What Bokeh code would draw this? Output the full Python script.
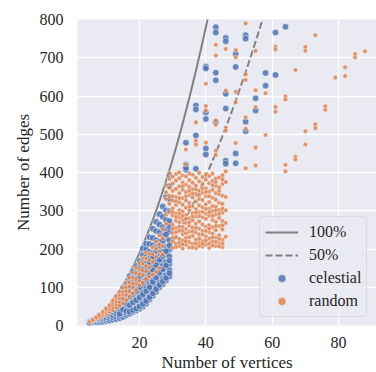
import numpy as np
from bokeh.plotting import figure
from bokeh.models import Legend, LegendItem, FixedTicker, Range1d
from bokeh.embed import file_html
from bokeh.resources import INLINE

# ---------------- data ----------------
# celestial graphs: (vertices, edges)
cel_n = [5, 5, 5, 6, 6, 6, 7, 7, 7, 7, 8, 8, 8, 8, 8, 9, 9, 9, 9, 9,
         10, 10, 10, 10, 10, 10, 11, 11, 11, 11, 11, 11,
         12, 12, 12, 12, 12, 12, 12, 13, 13, 13, 13, 13, 13, 13, 13,
         14, 14, 14, 14, 14, 14, 14, 14, 15, 15, 15, 15, 15, 15, 15, 15, 15,
         16, 16, 16, 16, 16, 16, 16, 16, 16, 17, 17, 17, 17, 17, 17, 17, 17, 17, 17,
         18, 18, 18, 18, 18, 18, 18, 18, 18, 18, 19, 19, 19, 19, 19, 19, 19, 19, 19, 19,
         20, 20, 20, 20, 20, 20, 20, 20, 20, 20, 21, 21, 21, 21, 21, 21, 21, 21, 21, 21, 21,
         22, 22, 22, 22, 22, 22, 22, 22, 22, 22, 22, 23, 23, 23, 23, 23, 23, 23, 23, 23, 23, 23,
         24, 24, 24, 24, 24, 24, 24, 24, 24, 24, 24, 25, 25, 25, 25, 25, 25, 25, 25, 25, 25, 25,
         26, 26, 26, 26, 26, 26, 26, 26, 26, 26, 26, 27, 27, 27, 27, 27, 27, 27, 27, 27, 27, 27,
         28, 28, 28, 28, 28, 28, 28, 28, 28, 28, 28, 29, 29, 29, 29, 29, 29, 29, 29, 29, 29, 29, 29,
         14, 14, 15, 15, 16, 16, 16, 17, 17, 17, 17, 18, 18, 18, 18, 19, 19, 19, 19,
         20, 20, 20, 20, 21, 21, 21, 21, 22, 22, 22, 22, 23, 23, 23, 23, 24, 24, 24, 24,
         25, 25, 25, 25, 26, 26, 26, 26, 27, 27, 27, 27, 28, 28, 28, 28, 29, 29, 29, 29,
         43, 43, 46, 46, 49, 52, 52, 61, 64, 40, 40, 43, 43, 49, 58, 61, 58, 46, 55, 46,
         55, 40, 40, 43, 52, 52, 40, 40, 49, 46, 46, 49, 34, 34, 37, 37, 37, 34, 34, 37]
cel_e = [8, 10, 6, 9, 12, 14, 8, 11, 16, 19, 9, 14, 17, 23, 26, 10, 15, 19, 25, 31,
         12, 17, 21, 28, 34, 41, 13, 19, 25, 31, 38, 46,
         15, 21, 27, 35, 42, 51, 59, 17, 24, 31, 38, 47, 54, 64, 73,
         19, 25, 35, 43, 50, 61, 71, 81, 22, 30, 36, 47, 57, 65, 78, 87, 99,
         27, 33, 43, 51, 63, 74, 83, 96, 109, 31, 40, 47, 59, 68, 81, 93, 103, 117, 129,
         35, 45, 53, 66, 75, 89, 101, 112, 128, 141, 39, 48, 61, 71, 85, 96, 111, 125, 138, 156,
         44, 56, 66, 81, 92, 108, 120, 137, 151, 169, 50, 61, 76, 87, 103, 116, 133, 147, 166, 184, 201,
         57, 71, 83, 99, 112, 129, 143, 162, 179, 199, 214, 68, 81, 93, 110, 123, 141, 156, 176, 192, 213, 231,
         78, 91, 107, 120, 138, 152, 172, 189, 210, 229, 253, 88, 103, 117, 134, 149, 168, 184, 205, 223, 247, 271,
         100, 113, 131, 145, 164, 180, 201, 219, 243, 264, 291, 108, 123, 137, 156, 172, 193, 211, 235, 257, 284, 311,
         118, 131, 149, 164, 185, 203, 227, 249, 276, 301, 336, 128, 146, 161, 181, 199, 223, 245, 273, 299, 331, 364, 394,
         30, 55, 41, 70, 38, 58, 89, 36, 53, 75, 98, 40, 60, 82, 106, 44, 66, 90, 117,
         50, 73, 100, 128, 56, 81, 110, 140, 64, 90, 120, 152, 74, 100, 132, 166, 84, 114, 145, 180,
         95, 125, 158, 195, 106, 138, 172, 210, 115, 147, 182, 222, 124, 157, 194, 238, 137, 170, 210, 258,
         780, 766, 752, 743, 710, 759, 750, 766, 781, 677, 672, 661, 641, 676, 660, 655, 627, 606, 594, 567,
         562, 557, 540, 532, 533, 508, 463, 447, 450, 431, 423, 424, 478, 407, 575, 565, 497, 421, 412, 410]

# random graphs: (vertices, edges)
rnd_n = [5, 5, 6, 6, 7, 7, 7, 8, 8, 8, 9, 9, 9, 9, 10, 10, 10, 10, 11, 11, 11, 11,
         12, 12, 12, 12, 12, 13, 13, 13, 13, 13, 14, 14, 14, 14, 14,
         15, 15, 15, 15, 15, 16, 16, 16, 16, 16, 17, 17, 17, 17, 17,
         18, 18, 18, 18, 18, 19, 19, 19, 19, 19, 20, 20, 20, 20, 20,
         21, 21, 21, 21, 21, 22, 22, 22, 22, 22, 23, 23, 23, 23,
         24, 24, 24, 24, 25, 25, 25, 25, 26, 26, 26, 26,
         27, 27, 27, 27,
         28, 28, 28, 28, 28, 29, 29, 29, 29, 29, 29,
         30, 30, 30, 30, 30, 30, 30, 30, 30, 30, 31, 31, 31, 31, 31, 31, 31, 31, 31, 31,
         32, 32, 32, 32, 32, 32, 32, 32, 32, 32, 32, 33, 33, 33, 33, 33, 33, 33, 33, 33, 33, 33,
         34, 34, 34, 34, 34, 34, 34, 34, 34, 34, 35, 35, 35, 35, 35, 35, 35, 35, 35, 35, 35,
         36, 36, 36, 36, 36, 36, 36, 36, 36, 36, 37, 37, 37, 37, 37, 37, 37, 37, 37, 37,
         38, 38, 38, 38, 38, 38, 38, 38, 38, 38, 39, 39, 39, 39, 39, 39, 39, 39, 39, 39,
         40, 40, 40, 40, 40, 40, 40, 40, 40, 40, 41, 41, 41, 41, 41, 41, 41, 41, 41, 41,
         42, 42, 42, 42, 42, 42, 42, 42, 42, 42, 43, 43, 43, 43, 43, 43, 43, 43, 43, 43,
         44, 44, 44, 44, 44, 44, 44, 44, 44, 45, 45, 45, 45, 45, 45, 45, 45, 45,
         46, 46, 46, 46, 46,
         30, 30, 30, 30, 31, 31, 31, 31, 32, 32, 32, 32,
         33, 33, 33, 33, 34, 34, 34, 34, 35, 35, 35, 35, 36, 36, 36, 36, 37, 37, 37, 37,
         38, 38, 38, 38, 39, 39, 39, 39, 40, 40, 40, 40, 41, 41, 41, 41, 42, 42, 42, 42,
         43, 43, 43, 43, 44, 44, 44, 44, 45, 45, 45, 45,
         52, 73, 43, 46, 43, 49, 49, 55, 61, 61, 70, 70, 85, 85, 88, 82, 82, 79, 67, 40,
         52, 52, 46, 49, 55, 58, 64, 64, 40, 40, 49, 55, 61, 61, 76, 76, 43, 43, 46, 46,
         52, 52, 73, 73, 70, 58, 40, 43, 43, 49, 55, 70, 67, 67, 52, 55, 64, 64, 46, 37,
         37, 34, 37, 34]
rnd_e = [10, 9, 13, 15, 17, 20, 21, 20, 24, 27, 25, 29, 33, 36, 30, 35, 40, 44, 36, 42, 48, 53,
         40, 48, 55, 61, 66, 47, 56, 63, 71, 77, 53, 62, 72, 80, 88,
         58, 70, 81, 89, 99, 66, 80, 91, 100, 112, 76, 89, 102, 112, 125,
         84, 99, 110, 125, 138, 93, 109, 121, 137, 151, 105, 117, 134, 147, 163,
         112, 131, 144, 161, 175, 122, 142, 156, 175, 190, 128, 152, 171, 187,
         133, 166, 187, 204, 140, 179, 201, 219, 150, 193, 212, 236,
         185, 207, 227, 252,
         266, 290, 331, 348, 367, 297, 318, 339, 360, 383, 398,
         203, 219, 242, 263, 288, 306, 327, 352, 371, 389, 214, 231, 255, 274, 293, 315, 336, 357, 379, 396,
         207, 226, 248, 270, 283, 301, 322, 346, 364, 385, 400, 201, 222, 239, 258, 277, 298, 316, 333, 355, 374, 392,
         211, 229, 252, 268, 289, 308, 327, 349, 368, 390, 204, 218, 245, 261, 280, 302, 320, 341, 362, 380, 397,
         213, 234, 256, 275, 294, 311, 335, 356, 373, 394, 202, 225, 243, 266, 285, 304, 324, 344, 366, 386,
         216, 238, 253, 272, 296, 314, 331, 352, 377, 399, 206, 221, 247, 264, 283, 309, 328, 347, 369, 388,
         212, 233, 258, 279, 292, 317, 338, 359, 381, 395, 203, 227, 244, 262, 287, 305, 323, 350, 372, 391,
         219, 240, 257, 276, 299, 312, 334, 355, 378, 397, 208, 230, 249, 271, 290, 310, 329, 346, 365, 384,
         215, 236, 260, 281, 302, 321, 343, 361, 387, 205, 224, 251, 273, 295, 318, 339, 370, 393,
         232, 268, 301, 336, 375,
         230, 253, 297, 338, 205, 244, 284, 325, 216, 259, 292, 333,
         212, 248, 287, 364, 220, 241, 279, 338, 231, 270, 311, 352, 204, 246, 285, 345, 214, 255, 295, 356,
         208, 227, 286, 342, 214, 238, 297, 358, 222, 247, 305, 349, 214, 253, 296, 338, 209, 230, 287, 367,
         219, 260, 301, 375, 207, 226, 292, 352, 214, 262, 306, 382,
         790, 759, 734, 723, 706, 720, 701, 718, 729, 722, 728, 718, 710, 701, 717, 675, 652, 648, 668, 632,
         657, 642, 614, 611, 615, 607, 599, 591, 574, 562, 584, 571, 571, 559, 573, 564, 536, 525, 517, 510,
         544, 514, 526, 516, 508, 498, 478, 457, 446, 477, 465, 473, 441, 434, 411, 418, 420, 403, 403, 483,
         473, 460, 531, 421]

x_ticks = [20, 40, 60, 80]
y_ticks = [0, 100, 200, 300, 400, 500, 600, 700, 800]
series_names = ["celestial", "random"]
line_names = ["100%", "50%"]

# ---------------- figure ----------------
FONT = "Liberation Serif"
p = figure(frame_width=299, frame_height=306, output_backend="svg", toolbar_location=None,
           x_range=Range1d(1.3, 91.45), y_range=Range1d(0, 800))
p.min_border_left = 77
p.min_border_right = 0
p.min_border_top = 19
p.min_border_bottom = 47
p.background_fill_color = "#EAEAF2"
p.border_fill_color = "white"
p.outline_line_color = None

p.xaxis.axis_line_color = None
p.yaxis.axis_line_color = None
p.xaxis.major_tick_line_color = None
p.yaxis.major_tick_line_color = None
p.xaxis.minor_tick_line_color = None
p.yaxis.minor_tick_line_color = None
p.xaxis.major_tick_out = 0
p.yaxis.major_tick_out = 0
p.xaxis.major_tick_in = 0
p.yaxis.major_tick_in = 0
p.xaxis.major_label_text_font = FONT
p.yaxis.major_label_text_font = FONT
p.xaxis.major_label_text_font_size = "16px"
p.yaxis.major_label_text_font_size = "16px"
p.xaxis.major_label_text_font_style = "normal"
p.yaxis.major_label_text_font_style = "normal"
p.xaxis.major_label_text_color = "#262626"
p.yaxis.major_label_text_color = "#262626"
p.xaxis.axis_label_text_font = FONT
p.yaxis.axis_label_text_font = FONT
p.xaxis.axis_label_text_font_size = "17px"
p.yaxis.axis_label_text_font_size = "17px"
p.xaxis.axis_label_text_font_style = "normal"
p.yaxis.axis_label_text_font_style = "normal"
p.xaxis.axis_label_text_color = "#262626"
p.yaxis.axis_label_text_color = "#262626"

p.xaxis.ticker = FixedTicker(ticks=x_ticks)
p.yaxis.ticker = FixedTicker(ticks=y_ticks)
p.xaxis.axis_label = "Number of vertices"
p.yaxis.axis_label = "Number of edges"
p.xaxis.major_label_standoff = 11
p.yaxis.major_label_standoff = 14
p.xaxis.axis_label_standoff = 2
p.yaxis.axis_label_standoff = 4

p.grid.grid_line_color = "white"
p.grid.grid_line_width = 1.3

# reference curves (complete graph and half of it)
n_all = np.array(sorted(set(cel_n) | set(rnd_n)), dtype=float)
n_line = np.linspace(n_all.min(), n_all.max(), 300)
full = n_line * (n_line - 1) / 2
half = full / 2

l1 = p.line(n_line, full, line_color="#808080", line_width=2)
l2 = p.line(n_line, half, line_color="#808080", line_width=2, line_dash="7 3")

s1 = p.scatter(cel_n, cel_e, size=6.5, fill_color="#4C72B0", fill_alpha=0.85,
               line_color="white", line_width=0.5)
s2 = p.scatter(rnd_n, rnd_e, size=4.6, fill_color="#DD8452", fill_alpha=0.85,
               line_color="white", line_width=0.4)

legend = Legend(items=[LegendItem(label=line_names[0], renderers=[l1]),
                       LegendItem(label=line_names[1], renderers=[l2]),
                       LegendItem(label=series_names[0], renderers=[s1]),
                       LegendItem(label=series_names[1], renderers=[s2])],
                location=(182, 8))
legend.label_text_font = FONT
legend.label_text_font_size = "16px"
legend.label_text_font_style = "normal"
legend.label_text_color = "#262626"
legend.background_fill_color = "#EAEAF2"
legend.background_fill_alpha = 0.8
legend.border_line_color = "#CCCCCC"
legend.border_line_width = 1
legend.border_radius = 4
legend.padding = 5
legend.spacing = 3
legend.label_height = 20
legend.glyph_height = 20
legend.glyph_width = 33
legend.label_standoff = 11
legend.margin = 0
p.add_layout(legend)

open("out.html", "w").write(file_html(p, INLINE))
